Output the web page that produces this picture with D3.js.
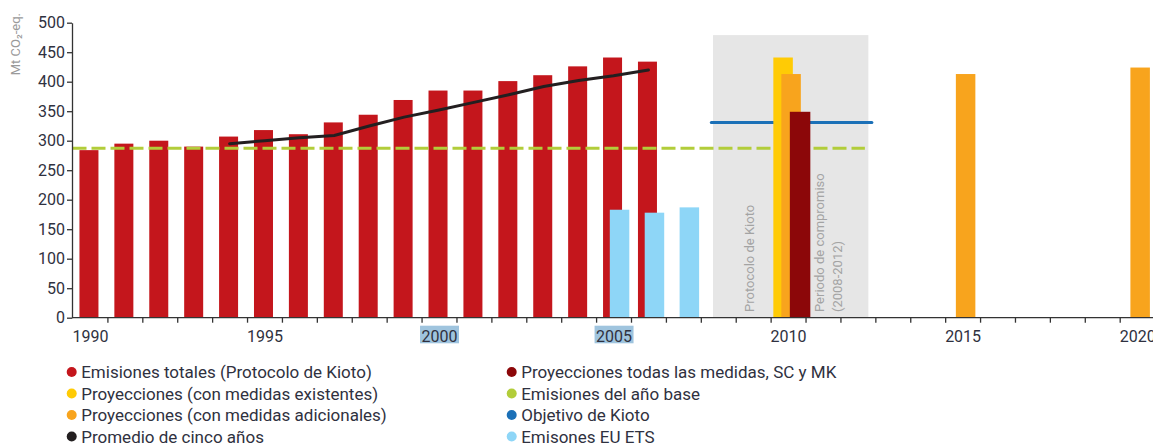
<!DOCTYPE html>
<html>
<head>
<meta charset="utf-8">
<script src="https://cdnjs.cloudflare.com/ajax/libs/d3/7.8.5/d3.min.js"></script>
<style>
  body { margin: 0; background: #fff; }
  svg { display: block; font-family: Roboto, "Noto Sans", sans-serif; }
</style>
</head>
<body>
<svg id="chart" width="1153" height="445"></svg>
<script>
/** Emisiones totales (Protocolo de Kioto), Mt CO2-eq */
var years = [1990, 1991, 1992, 1993, 1994, 1995, 1996, 1997, 1998, 1999,
             2000, 2001, 2002, 2003, 2004, 2005, 2006];
var totals = [284, 295, 300, 290, 307, 318, 311, 331, 344, 369,
              385, 385, 401, 411, 426, 441, 434];

/** Promedio de cinco años */
var avgYears = [1994, 1995, 1996, 1997, 1998, 1999, 2000, 2001, 2002, 2003, 2004, 2005, 2006];
var avgValues = [295, 300, 305, 309, 325, 340, 352, 365, 378, 392, 402, 410, 420];

/** Emisones EU ETS */
var etsYears = [2005, 2006, 2007];
var etsValues = [183, 178, 187];

/** Proyecciones */
var existingYears = [2010];
var existingValues = [441];
var additionalYears = [2010, 2015, 2020];
var additionalValues = [413, 413, 424];
var allMeasuresYears = [2010];
var allMeasuresValues = [349];

/** Emisiones del año base, objetivo de Kioto, periodo de compromiso */
var baseYearValue = 287;
var baseYearSpan = [1989.5, 2012.2];
var kyotoTarget = 331;
var kyotoSpan = [2007.8, 2012.4];
var commitmentPeriod = [2007.85, 2012.3];
var commitmentTop = 479;

/** Axis ticks */
var yTicks = [0, 50, 100, 150, 200, 250, 300, 350, 400, 450, 500];
var xLabelYears = [1990, 1995, 2000, 2005, 2010, 2015, 2020];
var highlightedYears = [2000, 2005];

/** Legend */
var legendCol1 = ['Emisiones totales (Protocolo de Kioto)',
                  'Proyecciones (con medidas existentes)',
                  'Proyecciones (con medidas adicionales)',
                  'Promedio de cinco años'];
var legendCol2 = ['Proyecciones todas las medidas, SC y MK',
                  'Emisiones del año base',
                  'Objetivo de Kioto',
                  'Emisones EU ETS'];

var colors = {
    total: '#c4161c',
    existing: '#ffcb05',
    additional: '#f8a41d',
    avg: '#231f20',
    allMeasures: '#8c0709',
    baseYear: '#b2cd3a',
    kyoto: '#1b70b7',
    ets: '#8ed6f7'
};
var legendColors1 = [colors.total, colors.existing, colors.additional, colors.avg];
var legendColors2 = [colors.allMeasures, colors.baseYear, colors.kyoto, colors.ets];

var svg = d3.select('#chart');

var xScale = d3.scaleLinear()
    .domain([1989.5, 2020.5])
    .range([72.5, 1154.6]);

var yScale = d3.scaleLinear()
    .domain([0, 500])
    .range([317.7, 22.7]);

function drawBars(cls, xs, vs, color, offset, width) {
    svg.append('g').selectAll('rect.' + cls)
        .data(xs)
        .enter()
        .append('rect')
        .attr('class', cls)
        .attr('x', function (d) { return xScale(d) + offset - width / 2; })
        .attr('y', function (d, i) { return yScale(vs[i]); })
        .attr('width', width)
        .attr('height', function (d, i) { return yScale(0) - yScale(vs[i]); })
        .attr('fill', color);
}

// grey commitment period box
svg.append('rect')
    .attr('x', xScale(commitmentPeriod[0]))
    .attr('y', yScale(commitmentTop))
    .attr('width', xScale(commitmentPeriod[1]) - xScale(commitmentPeriod[0]))
    .attr('height', yScale(0) - yScale(commitmentTop))
    .attr('fill', '#e6e6e6');

// box labels
var boxTextX = xScale(commitmentPeriod[0]);
svg.append('text')
    .attr('transform', 'translate(' + (boxTextX + 41) + ',' + 312 + ') rotate(-90)')
    .attr('font-size', 13)
    .attr('fill', '#a3a3a3')
    .text('Protocolo de Kioto');
svg.append('text')
    .attr('transform', 'translate(' + (boxTextX + 111) + ',' + 312 + ') rotate(-90)')
    .attr('font-size', 13)
    .attr('fill', '#a3a3a3')
    .text('Periodo de compromiso');
svg.append('text')
    .attr('transform', 'translate(' + (boxTextX + 129) + ',' + 312 + ') rotate(-90)')
    .attr('font-size', 13)
    .attr('fill', '#a3a3a3')
    .text('(2008-2012)');

// historic emissions
drawBars('total', years, totals, colors.total, -1, 19);
drawBars('ets', etsYears, etsValues, colors.ets, 6, 19.5);

// base year (dashed) and Kyoto target
svg.append('line')
    .attr('x1', xScale(baseYearSpan[0]))
    .attr('x2', xScale(baseYearSpan[1]))
    .attr('y1', yScale(baseYearValue))
    .attr('y2', yScale(baseYearValue))
    .attr('stroke', colors.baseYear)
    .attr('stroke-width', 3)
    .attr('stroke-dasharray', '14,5');

svg.append('line')
    .attr('x1', xScale(kyotoSpan[0]))
    .attr('x2', xScale(kyotoSpan[1]))
    .attr('y1', yScale(kyotoTarget))
    .attr('y2', yScale(kyotoTarget))
    .attr('stroke', colors.kyoto)
    .attr('stroke-width', 3)
    .attr('stroke-linecap', 'round');

// projections
drawBars('existing', existingYears, existingValues, colors.existing, -5, 19.5);
drawBars('additional', additionalYears, additionalValues, colors.additional, 3, 19.5);
drawBars('allMeasures', allMeasuresYears, allMeasuresValues, colors.allMeasures, 12, 20.5);

// five year average
var line = d3.line()
    .x(function (d) { return xScale(d); })
    .y(function (d, i) { return yScale(avgValues[i]); });

svg.append('path')
    .datum(avgYears)
    .attr('d', line)
    .attr('fill', 'none')
    .attr('stroke', colors.avg)
    .attr('stroke-width', 3)
    .attr('stroke-linecap', 'round');

// y axis
var yAxis = d3.axisLeft(yScale)
    .tickValues(yTicks)
    .tickSize(5)
    .tickSizeOuter(0)
    .tickPadding(2);

var gy = svg.append('g')
    .attr('transform', 'translate(72,0)')
    .call(yAxis);
gy.selectAll('text').attr('font-size', 16).attr('fill', '#2f3140').attr('font-family', 'Roboto');
gy.selectAll('line, path').attr('stroke', '#333').attr('stroke-width', 1.3);

svg.append('text')
    .attr('transform', 'translate(20,13) rotate(-90)')
    .attr('text-anchor', 'end')
    .attr('font-size', 13)
    .attr('fill', '#9a9a9a')
    .text('Mt CO\u2082-eq.');

// x axis: ticks on year boundaries
var boundaryTicks = d3.range(1990.5, 2020, 1);
var xAxis = d3.axisBottom(xScale)
    .tickValues(boundaryTicks)
    .tickSize(5)
    .tickSizeOuter(0)
    .tickFormat('');

var gx = svg.append('g')
    .attr('transform', 'translate(0,' + yScale(0) + ')')
    .call(xAxis);
gx.select('.domain').attr('d', 'M72,0H1153');
gx.selectAll('line, path').attr('stroke', '#333').attr('stroke-width', 1.3);

// x labels
var labelAxis = d3.axisBottom(xScale)
    .tickValues(xLabelYears)
    .tickSize(0)
    .tickPadding(12.6)
    .tickFormat(d3.format('d'));

var gl = svg.append('g')
    .attr('transform', 'translate(0,' + yScale(0) + ')')
    .call(labelAxis);
gl.select('.domain').remove();
gl.selectAll('text').attr('font-size', 16).attr('fill', '#2f3140').attr('font-family', 'Roboto');

gl.selectAll('.tick')
    .filter(function (d) { return highlightedYears.indexOf(d) >= 0; })
    .each(function () {
        var t = d3.select(this).select('text');
        var w = t.node().getComputedTextLength();
        d3.select(this).insert('rect', 'text')
            .attr('x', -w / 2 - 1.5)
            .attr('y', 8)
            .attr('width', w + 3)
            .attr('height', 17.6)
            .attr('fill', '#9fc4de');
    });

// legend
function drawLegend(items, cols, cx) {
    var g = svg.append('g');
    var rows = g.selectAll('g')
        .data(items)
        .enter()
        .append('g')
        .attr('transform', function (d, i) { return 'translate(' + cx + ',' + (372 + i * 21.5) + ')'; });
    rows.append('circle')
        .attr('r', 5)
        .attr('fill', function (d, i) { return cols[i]; });
    rows.append('text')
        .attr('x', 9.5)
        .attr('y', 6)
        .attr('font-size', 17)
        .attr('fill', '#2f3140')
        .text(function (d) { return d; });
}
drawLegend(legendCol1, legendColors1, 71.7);
drawLegend(legendCol2, legendColors2, 511.7);
</script>
</body>
</html>
